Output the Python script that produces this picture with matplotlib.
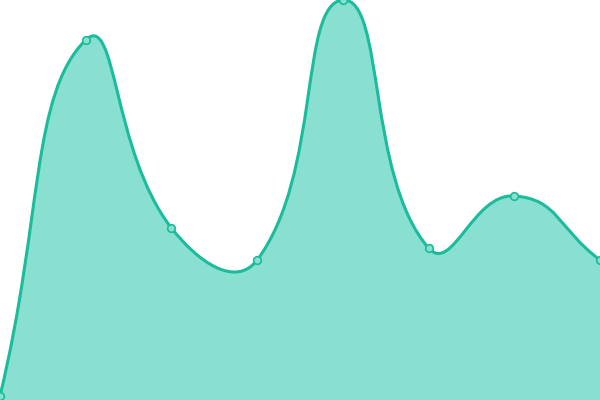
import numpy as np
import matplotlib
matplotlib.use('Agg')
import matplotlib.pyplot as plt
from matplotlib.path import Path
from matplotlib.patches import PathPatch

# data
categories = ['A', 'B', 'C', 'D', 'E', 'F', 'G', 'H']
values = [1, 90, 43, 35, 100, 38, 51, 35]

line_color = '#1abc9c'
fill_color = '#89e0d0'
W, H = 600, 400
smooth = 0.5

x = np.arange(len(values), dtype=float)
y = np.array(values, dtype=float)
ymax = 100

# pixel scale factors so smoothing behaves like a canvas renderer
sx = W / (len(values) - 1)
sy = H / ymax
px, py = x * sx, y * sy

verts = [(x[0], y[0])]
codes = [Path.MOVETO]
n = len(values)
cps = []
for i in range(n):
    prev = i - 1 if i > 0 else i
    nxt = i + 1 if i < n - 1 else i
    vx, vy = px[nxt] - px[prev], py[nxt] - py[prev]
    d0 = np.hypot(px[i] - px[prev], py[i] - py[prev])
    d1 = np.hypot(px[nxt] - px[i], py[nxt] - py[i])
    s = d0 + d1
    r0, r1 = (d0 / s, d1 / s) if s else (0, 0)
    c0 = (px[i] - vx * smooth * r0, py[i] - vy * smooth * r0)
    c1 = (px[i] + vx * smooth * r1, py[i] + vy * smooth * r1)
    cps.append((c0, c1))

for i in range(n - 1):
    a = cps[i][1]
    b = cps[i + 1][0]
    verts += [(a[0] / sx, a[1] / sy), (b[0] / sx, b[1] / sy), (x[i + 1], y[i + 1])]
    codes += [Path.CURVE4] * 3

fig = plt.figure(figsize=(6, 4), dpi=100)
ax = fig.add_axes([0, 0, 1, 1])

area_verts = verts + [(x[-1], 0), (x[0], 0), (x[0], y[0])]
area_codes = codes + [Path.LINETO, Path.LINETO, Path.CLOSEPOLY]
ax.add_patch(PathPatch(Path(area_verts, area_codes), facecolor=fill_color, edgecolor='none'))
ax.add_patch(PathPatch(Path(verts, codes), facecolor='none', edgecolor=line_color, lw=2.2))
ax.plot(x, y, 'o', ms=5.5, mfc=fill_color, mec=line_color, mew=1.2, clip_on=False, zorder=3)

ax.set_xlim(0, n - 1)
ax.set_ylim(0, ymax)
ax.axis('off')
fig.savefig('out.png', dpi=100)
